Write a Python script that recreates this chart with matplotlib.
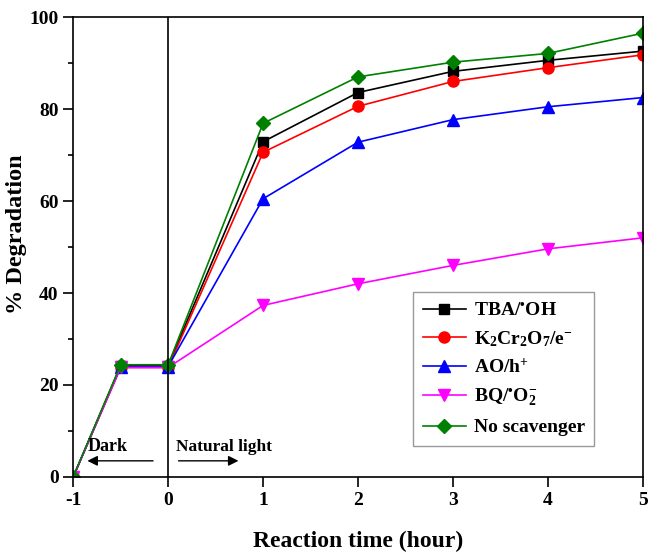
import matplotlib
matplotlib.use('Agg')
import matplotlib.pyplot as plt
import numpy as np

plt.rcParams['font.family'] = ['Liberation Serif', 'DejaVu Serif']
plt.rcParams['font.weight'] = 'bold'
plt.rcParams['mathtext.fontset'] = 'custom'
plt.rcParams['mathtext.rm'] = 'Liberation Serif:bold'
plt.rcParams['mathtext.it'] = 'Liberation Serif:bold'
plt.rcParams['mathtext.bf'] = 'Liberation Serif:bold'
plt.rcParams['mathtext.default'] = 'rm'
plt.rcParams['axes.unicode_minus'] = False

#     *****     data     *****
time = [-1, -0.5, 0, 1, 2, 3, 4, 5]
tba = [0, 24.2, 24.2, 72.9, 83.6, 88.2, 90.6, 92.6]
k2cr2o7 = [0, 23.8, 23.8, 70.6, 80.6, 86.0, 89.0, 91.8]
ao = [0, 24.0, 24.0, 60.5, 72.8, 77.7, 80.5, 82.5]
bq = [0, 23.8, 23.8, 37.3, 42.0, 46.0, 49.6, 52.0]
no_scav = [0, 24.4, 24.4, 76.9, 87.0, 90.2, 92.1, 96.5]

labels = ['TBA/$^{•}$OH', 'K$_2$Cr$_2$O$_7$/e$^{-}$', 'AO/h$^{+}$',
          'BQ/$^{•}$O$^{-}_{2}$', 'No scavenger']
series = [tba, k2cr2o7, ao, bq, no_scav]
colors = ['black', 'red', 'blue', 'magenta', 'green']
markers = ['s', 'o', '^', 'v', 'D']
msizes = [7, 8, 8, 8, 7]

fig = plt.figure(figsize=(6.48, 5.52), dpi=100)
ax = fig.add_axes([0.113, 0.136, 0.879, 0.833])

for y, c, m, ms, lab in zip(series, colors, markers, msizes, labels):
    ax.plot(time, y, color=c, marker=m, markersize=ms, linewidth=1.2, label=lab)

ax.axvline(0, color='black', linewidth=1.2)

ax.annotate('', xy=(-0.88, 3.5), xytext=(-0.13, 3.5),
            arrowprops=dict(arrowstyle='-|>', color='black', lw=1, mutation_scale=15))
ax.text(-0.64, 4.7, 'Dark', ha='center', va='bottom', fontsize=13, fontweight='bold')
ax.annotate('', xy=(0.77, 3.5), xytext=(0.08, 3.5),
            arrowprops=dict(arrowstyle='-|>', color='black', lw=1, mutation_scale=15))
ax.text(0.08, 4.7, 'Natural light', ha='left', va='bottom', fontsize=12.5, fontweight='bold')

ax.set_xlim(-1, 5)
ax.set_ylim(0, 100)
ax.set_xticks([-1, 0, 1, 2, 3, 4, 5])
ax.set_yticks([0, 20, 40, 60, 80, 100])
ax.set_yticks([10, 30, 50, 70, 90], minor=True)
ax.tick_params(axis='both', which='major', direction='out', length=7, width=1.2, labelsize=14)
ax.tick_params(axis='y', which='minor', direction='out', length=3.5, width=1.2)
for lab in ax.get_xticklabels() + ax.get_yticklabels():
    lab.set_fontweight('bold')
for sp in ax.spines.values():
    sp.set_linewidth(1.2)

ax.set_xlabel('Reaction time (hour)', fontsize=17, fontweight='bold', labelpad=16)
ax.set_ylabel('% Degradation', fontsize=17.5, fontweight='bold')
ax.yaxis.set_label_coords(-0.082, 0.527)

leg = ax.legend(loc='lower right', bbox_to_anchor=(0.932, 0.046), fontsize=14, frameon=True,
                fancybox=False, edgecolor='gray', handlelength=2.2, borderpad=0.5,
                labelspacing=0.5, handletextpad=0.4)
leg.get_frame().set_linewidth(1.0)

fig.savefig('out.png', dpi=100)
